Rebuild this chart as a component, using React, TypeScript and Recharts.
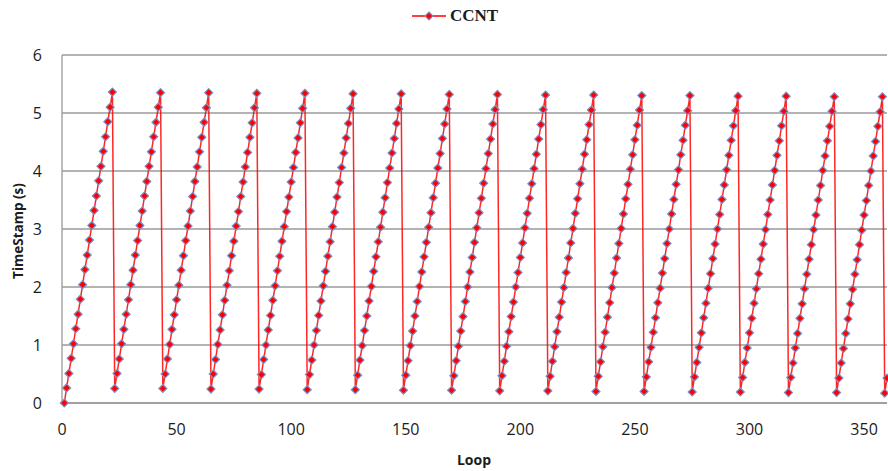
import { LineChart, Line, XAxis, YAxis, CartesianGrid } from "recharts";

// one ramp per loop cycle (values in seconds)
const RAMPS: number[][] = [
	[0, 0.26, 0.51, 0.77, 1.02, 1.28, 1.53, 1.79, 2.04, 2.3, 2.55, 2.81, 3.06, 3.32, 3.57, 3.83, 4.08, 4.34, 4.59, 4.85, 5.1, 5.36],
	[0.25, 0.51, 0.76, 1.02, 1.27, 1.53, 1.78, 2.04, 2.29, 2.55, 2.8, 3.06, 3.31, 3.57, 3.82, 4.08, 4.33, 4.59, 4.84, 5.1, 5.35],
	[0.25, 0.5, 0.76, 1.01, 1.27, 1.52, 1.78, 2.03, 2.29, 2.54, 2.8, 3.05, 3.31, 3.56, 3.82, 4.07, 4.33, 4.58, 4.84, 5.09, 5.35],
	[0.24, 0.5, 0.75, 1.01, 1.26, 1.52, 1.77, 2.03, 2.28, 2.54, 2.79, 3.05, 3.3, 3.56, 3.81, 4.07, 4.32, 4.58, 4.83, 5.09, 5.34],
	[0.24, 0.49, 0.75, 1.0, 1.26, 1.51, 1.77, 2.02, 2.28, 2.53, 2.79, 3.04, 3.3, 3.55, 3.81, 4.06, 4.32, 4.57, 4.83, 5.08, 5.34],
	[0.23, 0.49, 0.74, 1.0, 1.25, 1.51, 1.76, 2.02, 2.27, 2.53, 2.78, 3.04, 3.29, 3.55, 3.8, 4.06, 4.31, 4.57, 4.82, 5.08, 5.33],
	[0.23, 0.48, 0.74, 0.99, 1.25, 1.5, 1.76, 2.01, 2.27, 2.52, 2.78, 3.03, 3.29, 3.54, 3.8, 4.05, 4.31, 4.56, 4.82, 5.07, 5.33],
	[0.22, 0.48, 0.73, 0.99, 1.24, 1.5, 1.75, 2.01, 2.26, 2.52, 2.77, 3.03, 3.28, 3.54, 3.79, 4.05, 4.3, 4.56, 4.81, 5.07, 5.32],
	[0.22, 0.47, 0.73, 0.98, 1.24, 1.49, 1.75, 2.0, 2.26, 2.51, 2.77, 3.02, 3.28, 3.53, 3.79, 4.04, 4.3, 4.55, 4.81, 5.06, 5.32],
	[0.21, 0.47, 0.72, 0.98, 1.23, 1.49, 1.74, 2.0, 2.25, 2.51, 2.76, 3.02, 3.27, 3.53, 3.78, 4.04, 4.29, 4.55, 4.8, 5.06, 5.31],
	[0.21, 0.46, 0.72, 0.97, 1.23, 1.48, 1.74, 1.99, 2.25, 2.5, 2.76, 3.01, 3.27, 3.52, 3.78, 4.03, 4.29, 4.54, 4.8, 5.05, 5.31],
	[0.2, 0.46, 0.71, 0.97, 1.22, 1.48, 1.73, 1.99, 2.24, 2.5, 2.75, 3.01, 3.26, 3.52, 3.77, 4.03, 4.28, 4.54, 4.79, 5.05, 5.3],
	[0.2, 0.45, 0.71, 0.96, 1.22, 1.47, 1.73, 1.98, 2.24, 2.49, 2.75, 3.0, 3.26, 3.51, 3.77, 4.02, 4.28, 4.53, 4.79, 5.04, 5.3],
	[0.19, 0.45, 0.7, 0.96, 1.21, 1.47, 1.72, 1.98, 2.23, 2.49, 2.74, 3.0, 3.25, 3.51, 3.76, 4.02, 4.27, 4.53, 4.78, 5.04, 5.29],
	[0.19, 0.44, 0.7, 0.95, 1.21, 1.46, 1.72, 1.97, 2.23, 2.48, 2.74, 2.99, 3.25, 3.5, 3.76, 4.01, 4.27, 4.52, 4.78, 5.03, 5.29],
	[0.18, 0.44, 0.69, 0.95, 1.2, 1.46, 1.71, 1.97, 2.22, 2.48, 2.73, 2.99, 3.24, 3.5, 3.75, 4.01, 4.26, 4.52, 4.77, 5.03, 5.28],
	[0.18, 0.43, 0.69, 0.94, 1.2, 1.45, 1.71, 1.96, 2.22, 2.47, 2.73, 2.98, 3.24, 3.49, 3.75, 4.0, 4.26, 4.51, 4.77, 5.02, 5.28],
	[0.17, 0.43],
];

const X_TICKS = [0, 50, 100, 150, 200, 250, 300, 350];
const Y_TICKS = [0, 1, 2, 3, 4, 5, 6];
const SERIES_NAME = "CCNT";

// loops are numbered from 1
const data = RAMPS.flat().map((v, i) => ({ loop: i + 1, ts: v }));

const RED = "#ff0000";
const MARKER_EDGE = "#7f8fc6";
const GRID = "#9a9a9a";
const TEXT = "#1c1c1c";

function Diamond(props: any) {
	const { cx, cy, index } = props;
	if (cx == null || cy == null) return null;
	const r = 4;
	return (
		<path
			key={`d-${index}`}
			d={`M${cx},${cy - r}L${cx + r},${cy}L${cx},${cy + r}L${cx - r},${cy}Z`}
			fill={RED}
			stroke={MARKER_EDGE}
			strokeWidth={1.2}
		/>
	);
}

export default function App() {
	const tickStyle = { fontFamily: "'Open Sans', sans-serif", fontSize: 16, fill: TEXT };
	return (
		<div style={{ position: "absolute", left: 0, top: 0, width: 888, height: 471, background: "#fff" }}>
			<LineChart width={888} height={471} data={data} margin={{ top: 55, right: 1, bottom: 0, left: 0 }}>
				<CartesianGrid vertical={false} stroke={GRID} strokeWidth={1.3} />
				<XAxis
					dataKey="loop"
					type="number"
					domain={[0, 360]}
					ticks={X_TICKS}
					interval={0}
					height={68}
					tickLine={false}
					tickSize={0}
					tickMargin={21}
					stroke={GRID}
					strokeWidth={1.3}
					tick={tickStyle}
				/>
				<YAxis
					type="number"
					domain={[0, 6]}
					ticks={Y_TICKS}
					interval={0}
					width={62}
					tickLine={false}
					tickSize={0}
					tickMargin={20}
					stroke={GRID}
					strokeWidth={1.3}
					tick={tickStyle}
				/>
				<Line
					type="linear"
					dataKey="ts"
					name={SERIES_NAME}
					stroke={RED}
					strokeOpacity={0.85}
					strokeWidth={1.5}
					dot={Diamond}
					activeDot={false}
					isAnimationActive={false}
				/>
			</LineChart>
			{/* legend */}
			<div style={{ position: "absolute", left: 412, top: 5, display: "flex", alignItems: "center" }}>
				<svg width={36} height={22}>
					<line x1={0} y1={11} x2={34} y2={11} stroke={RED} strokeWidth={1.5} />
					<path d="M17,7L21,11L17,15L13,11Z" fill={RED} stroke={MARKER_EDGE} strokeWidth={1.2} />
				</svg>
				<span style={{ fontFamily: "'Liberation Serif', serif", fontWeight: 700, fontSize: 17, color: TEXT, marginLeft: 2 }}>
					{SERIES_NAME}
				</span>
			</div>
			{/* axis titles */}
			<div
				style={{
					position: "absolute",
					left: 474,
					top: 451,
					transform: "translateX(-50%)",
					fontFamily: "'Open Sans', sans-serif",
					fontWeight: 700,
					fontSize: 14,
					color: TEXT,
					lineHeight: "18px",
				}}
			>
				Loop
			</div>
			<div
				style={{
					position: "absolute",
					left: 18,
					top: 231,
					transform: "translate(-50%, -50%) rotate(-90deg)",
					fontFamily: "'Open Sans', sans-serif",
					fontWeight: 700,
					fontSize: 13.5,
					color: TEXT,
					whiteSpace: "nowrap",
					lineHeight: "18px",
				}}
			>
				TimeStamp (s)
			</div>
		</div>
	);
}
